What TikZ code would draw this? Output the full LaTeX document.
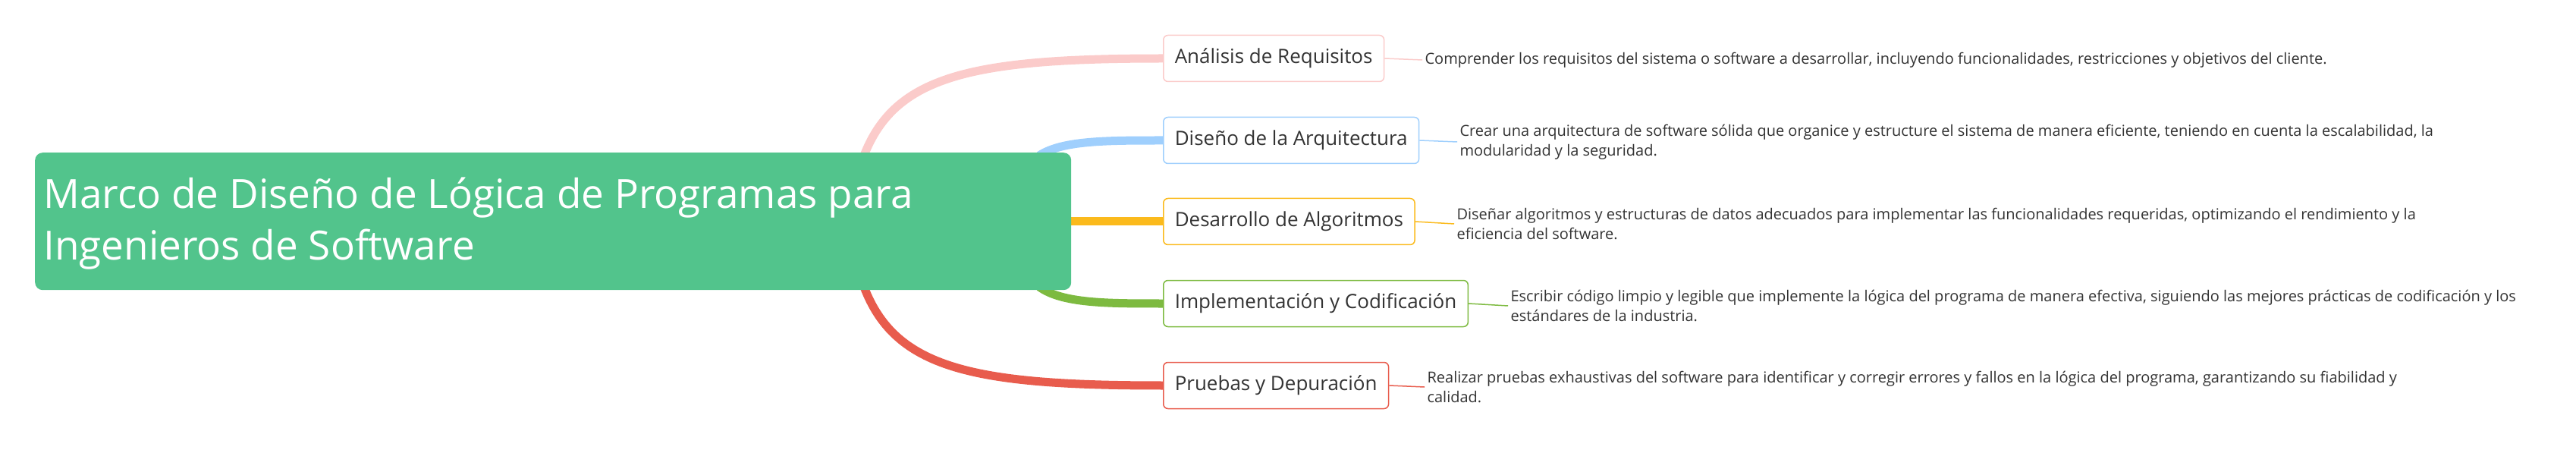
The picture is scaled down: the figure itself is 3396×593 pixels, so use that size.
\documentclass[tikz,border=0pt]{standalone}
\usepackage{fontspec}
\setmainfont{Open Sans}
\definecolor{cpink}{HTML}{FBCBCA}
\definecolor{cblue}{HTML}{9FCFFD}
\definecolor{cyel}{HTML}{FBBA1C}
\definecolor{cgreen}{HTML}{7DBA40}
\definecolor{cred}{HTML}{E85C4D}
\definecolor{croot}{HTML}{52C48C}
\definecolor{ctext}{HTML}{333333}
\tikzset{
  topic/.style={draw=#1, line width=1.5pt, rounded corners=6pt, fill=white, minimum height=61pt, inner xsep=15pt, anchor=west, font=\fontsize{26}{30}\selectfont, text=ctext},
  desc/.style={anchor=west, align=left, font=\fontsize{20}{26}\selectfont, text=ctext},
  branch/.style={draw=#1, line width=11pt},
  twig/.style={draw=#1, line width=1.5pt}
}
\begin{document}
\begin{tikzpicture}[x=1pt,y=-1pt]
\useasboundingbox (0,0) rectangle (3396,593);
\node[topic=cpink] (a) at (1533,77) {Análisis de Requisitos};
\node[topic=cblue] (b) at (1533,185) {Diseño de la Arquitectura};
\node[topic=cyel] (c) at (1533,292) {Desarrollo de Algoritmos};
\node[topic=cgreen] (d) at (1533,400) {Implementación y Codificación};
\node[topic=cred] (e) at (1533,508) {Pruebas y Depuración};
\coordinate (ra) at (1139,205);
\coordinate (rb) at (1370,205);
\coordinate (rc) at (1412,292);
\coordinate (rd) at (1370,378);
\coordinate (re) at (1139,378);
\draw[branch=cpink] (ra) .. controls (1180,100) and (1280,77) .. (a.west);
\draw[branch=cblue] (rb) .. controls (1400,185) and (1460,185) .. (b.west);
\draw[branch=cyel] (rc) -- (c.west);
\draw[branch=cgreen] (rd) .. controls (1400,400) and (1460,400) .. (d.west);
\draw[branch=cred] (re) .. controls (1180,485) and (1280,508) .. (e.west);
\node[fill=croot, rounded corners=10pt, minimum width=1366pt, minimum height=181pt, anchor=north west, inner sep=0pt] (root) at (46,201) {};
\node[anchor=west, align=left, text=white, font=\fontsize{53}{68}\selectfont] (roottext) at (54,295) {Marco de Diseño de Lógica de Programas para\\Ingenieros de Software};
\node[desc] (da) at (1875,79) {Comprender los requisitos del sistema o software a desarrollar, incluyendo funcionalidades, restricciones y objetivos del cliente.};
\node[desc] (db) at (1921,187) {Crear una arquitectura de software sólida que organice y estructure el sistema de manera eficiente, teniendo en cuenta la escalabilidad, la\\modularidad y la seguridad.};
\node[desc] (dc) at (1917,295) {Diseñar algoritmos y estructuras de datos adecuados para implementar las funcionalidades requeridas, optimizando el rendimiento y la\\eficiencia del software.};
\node[desc] (dd) at (1988,403) {Escribir código limpio y legible que implemente la lógica del programa de manera efectiva, siguiendo las mejores prácticas de codificación y los\\estándares de la industria.};
\node[desc] (de) at (1878,510) {Realizar pruebas exhaustivas del software para identificar y corregir errores y fallos en la lógica del programa, garantizando su fiabilidad y\\calidad.};
\draw[twig=cpink] (a.east) -- (da.west);
\draw[twig=cblue] (b.east) -- (db.west);
\draw[twig=cyel] (c.east) -- (dc.west);
\draw[twig=cgreen] (d.east) -- (dd.west);
\draw[twig=cred] (e.east) -- (de.west);
\end{tikzpicture}
\end{document}
